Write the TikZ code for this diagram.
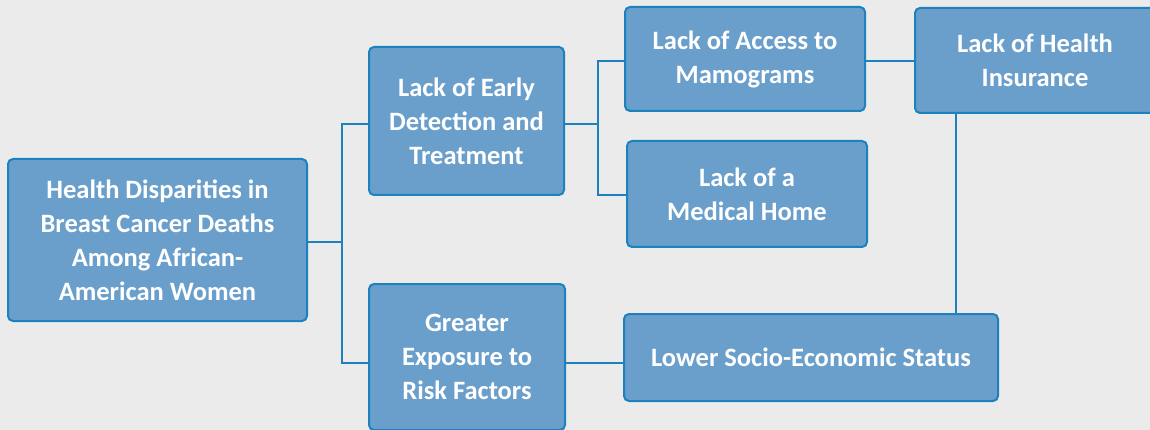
\documentclass[tikz,border=0pt]{standalone}
\usepackage{fontspec}
\setmainfont{Carlito}
\usetikzlibrary{calc}
\definecolor{bg}{RGB}{235,235,235}
\definecolor{boxfill}{RGB}{106,159,204}
\definecolor{boxline}{RGB}{28,129,189}
\begin{document}
\begin{tikzpicture}[x=1pt,y=-1pt,
  box/.style={draw=boxline, fill=boxfill, line width=2pt, rounded corners=5pt,
    text=white, font=\bfseries\fontsize{26.5}{34}\selectfont, align=center, inner sep=0pt},
  link/.style={draw=boxline, line width=2pt}]
\useasboundingbox (0,0) rectangle (1150,430);
\clip (0,0) rectangle (1150,430);
\fill[bg] (0,0) rectangle (1150,430);
\node[box, minimum width=299pt, minimum height=162pt] (A) at (157.5,240)
  {Health Disparities in\\Breast Cancer Deaths\\Among African-\\American Women};
\node[box, minimum width=195pt, minimum height=148pt] (B) at (466.5,121)
  {Lack of Early\\Detection and\\Treatment};
\node[box, minimum width=196pt, minimum height=146pt] (C) at (467,357)
  {Greater\\Exposure to\\Risk Factors};
\node[box, minimum width=240pt, minimum height=104pt] (D) at (745,59)
  {Lack of Access to\\Mamograms};
\node[box, minimum width=240pt, minimum height=106pt] (E) at (747,194)
  {Lack of a\\Medical Home};
\node[box, minimum width=260pt, minimum height=105pt] (F) at (1045,60.5)
  {Lack of Health\hspace*{20pt}\\Insurance\hspace*{20pt}};
\node[box, minimum width=374pt, minimum height=87pt] (G) at (811,357.5)
  {Lower Socio-Economic Status};
\draw[link] ($(A.east)+(0,2)$) -- ++(34,0) coordinate (j1);
\draw[link] ($(B.west)+(0,3)$) -| (j1) |- ($(C.west)+(0,6)$);
\draw[link] ($(B.east)+(0,3)$) -- ++(33,0) coordinate (j2);
\draw[link] ($(D.west)+(0,2)$) -| (j2) |- ($(E.west)+(0,1)$);
\draw[link] ($(D.east)+(0,2)$) -- ($(F.west)+(0,0.5)$);
\draw[link] ($(F.south)+(-89,0)$) -- ($(G.north)+(145,0)$);
\draw[link] ($(C.east)+(0,6)$) -- ($(G.west)+(0,5.5)$);
\end{tikzpicture}
\end{document}
